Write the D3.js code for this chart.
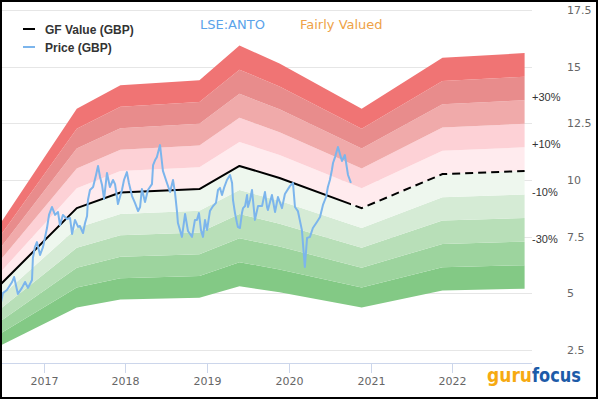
<!DOCTYPE html>
<html><head><meta charset="utf-8">
<script src="https://cdn.jsdelivr.net/npm/d3@7"></script>
<style>html,body{margin:0;padding:0;background:#fff}</style>
</head><body><svg id="c" width="600" height="420"></svg>
<script>
// ---------- data ----------
const priceDates = ["2016-06-20","2016-07-03","2016-07-21","2016-08-13","2016-08-22","2016-09-08","2016-09-26","2016-10-10","2016-10-23","2016-11-10","2016-11-14","2016-11-23","2016-12-02","2016-12-16","2016-12-29","2017-01-16","2017-01-25","2017-02-07","2017-02-21","2017-03-06","2017-03-15","2017-03-28","2017-04-15","2017-04-29","2017-05-08","2017-05-21","2017-06-04","2017-06-12","2017-06-26","2017-07-05","2017-07-14","2017-07-18","2017-07-27","2017-08-10","2017-08-23","2017-09-01","2017-09-10","2017-09-19","2017-09-28","2017-10-11","2017-10-24","2017-11-07","2017-11-16","2017-11-29","2017-12-08","2017-12-17","2017-12-26","2018-01-08","2018-01-17","2018-01-31","2018-02-13","2018-02-27","2018-03-08","2018-03-16","2018-03-30","2018-04-12","2018-04-30","2018-05-05","2018-05-14","2018-05-22","2018-06-05","2018-06-14","2018-06-18","2018-07-06","2018-07-20","2018-08-02","2018-08-11","2018-08-20","2018-08-24","2018-09-11","2018-09-25","2018-10-08","2018-10-26","2018-11-08","2018-11-17","2018-11-26","2018-12-05","2018-12-14","2018-12-23","2019-01-01","2019-01-14","2019-01-28","2019-02-10","2019-02-19","2019-02-28","2019-03-09","2019-03-18","2019-03-31","2019-04-14","2019-04-23","2019-04-27","2019-05-06","2019-05-15","2019-05-19","2019-05-28","2019-06-06","2019-06-11","2019-06-20","2019-06-29","2019-07-03","2019-07-12","2019-07-21","2019-08-03","2019-08-17","2019-09-04","2019-09-17","2019-09-26","2019-09-30","2019-10-18","2019-11-01","2019-11-14","2019-12-02","2019-12-15","2020-01-07","2020-01-20","2020-01-29","2020-02-11","2020-02-29","2020-03-13","2020-03-23","2020-04-05","2020-04-18","2020-05-06","2020-05-20","2020-06-02","2020-06-16","2020-06-24","2020-07-03","2020-07-12","2020-07-17","2020-07-26","2020-08-08","2020-08-26","2020-09-08","2020-09-22","2020-10-05"];
const priceValues = [4.40,5.01,5.15,5.50,5.72,4.97,5.24,5.50,5.24,5.59,6.56,7.04,7.26,6.69,7.04,7.88,8.46,8.81,8.46,8.59,8.01,8.46,8.28,8.32,7.62,8.24,7.93,7.97,7.66,8.10,8.41,9.12,9.56,9.69,10.22,10.62,10.13,9.78,9.16,10.31,9.69,10.00,9.82,8.94,9.25,9.56,10.00,10.35,9.87,9.29,8.99,8.63,8.81,9.60,9.03,9.56,9.82,10.66,10.88,11.01,11.54,10.75,10.40,9.87,9.47,10.00,9.43,8.59,8.10,7.49,8.50,7.75,7.49,8.24,8.24,8.54,7.79,7.49,8.24,7.79,8.63,8.85,8.99,9.56,9.65,9.34,9.65,10.00,10.22,9.87,9.12,8.54,8.10,7.93,7.88,8.54,8.76,8.85,9.34,8.81,9.12,9.56,8.24,8.85,8.85,9.47,8.81,8.68,9.34,8.59,9.25,8.76,9.38,9.74,9.87,8.81,8.63,7.79,6.16,7.44,7.49,7.88,8.15,8.37,8.90,9.25,9.69,10.00,10.44,10.75,11.01,11.46,10.84,11.10,10.22,9.87];

const gfDates = ["2016-06-20","2017-05-29","2017-12-10","2018-11-28","2019-05-26","2019-11-21","2020-11-22","2021-11-18","2022-11-20"];
const gfValues = [5.37,8.76,9.45,9.60,10.62,10.09,8.76,10.26,10.40];
const forecastStart = "2020-10-05";

const bandEdges = [-0.5,-0.4,-0.3,-0.2,-0.1,0,0.1,0.2,0.3,0.4,0.5];
const bandColors = ["#83c985","#9dd49e","#b8dfb8","#d5ebd5","#eef7ee","#ffebee","#fdd1d6","#f0aaaa","#e88c8c","#f07474"];
const bandLabels = ["+30%","+10%","-10%","-30%"];
const bandLabelFactors = [1.3,1.1,0.9,0.7];

const yTicks = [2.5,5,7.5,10,12.5,15,17.5];
const xTickLabels = ["2017","2018","2019","2020","2021","2022"];

const titleTicker = "LSE:ANTO";
const titleStatus = "Fairly Valued";
const legendNames = ["GF Value (GBP)","Price (GBP)"];

// ---------- chart ----------
const parse = d3.timeParse("%Y-%m-%d");
const svg = d3.select("#c");
const plotRight = 532, plotBottom = 363;

const x = d3.scaleTime().domain([parse("2016-06-20"), parse("2023-01-01")]).range([0, 534]);
const y = d3.scaleLinear().domain([2.5, 17.5]).range([350, 10]);

svg.append("rect").attr("width",600).attr("height",420).attr("fill","#fff");

// gridlines
svg.append("g").selectAll("line").data(yTicks).join("line")
  .attr("x1",0).attr("x2",plotRight)
  .attr("y1",d=>Math.round(y(d))+0.5).attr("y2",d=>Math.round(y(d))+0.5)
  .attr("stroke","#e6e6e6").attr("stroke-width",1);

// bands
const gf = gfDates.map((d,i)=>({date:parse(d), v:gfValues[i]}));
for (let i=0;i<bandColors.length;i++){
  const lo = bandEdges[i], hi = bandEdges[i+1];
  const area = d3.area().x(d=>x(d.date)).y0(d=>y(d.v*(1+lo))).y1(d=>y(d.v*(1+hi)));
  svg.append("path").datum(gf).attr("d",area).attr("fill",bandColors[i]);
}

// band labels
const lastGF = gf[gf.length-1];
svg.append("g").selectAll("text").data(bandLabels).join("text")
  .attr("x",plotRight).attr("y",(d,i)=>y(lastGF.v*bandLabelFactors[i])+1)
  .attr("font-family","Liberation Sans, Arial, sans-serif").attr("font-size",11)
  .attr("fill","#333").text(d=>d);

// right axis labels
svg.append("g").selectAll("text").data(yTicks).join("text")
  .attr("x",567).attr("y",d=>y(d)+4)
  .attr("font-family","DejaVu Sans, Verdana, sans-serif").attr("font-size",11)
  .attr("fill","#666").text(d=>d3.format("~g")(d));

// x axis
svg.append("line").attr("x1",0).attr("x2",plotRight).attr("y1",plotBottom+0.5).attr("y2",plotBottom+0.5)
  .attr("stroke","#ccd6eb").attr("stroke-width",1);
const xt = svg.append("g").selectAll("g").data(xTickLabels).join("g")
  .attr("transform",d=>`translate(${Math.round(x(parse(d+"-01-01")))+0.5},0)`);
xt.append("line").attr("y1",plotBottom).attr("y2",plotBottom+10).attr("stroke","#ccd6eb");
xt.append("text").attr("y",385).attr("text-anchor","middle")
  .attr("font-family","DejaVu Sans, Verdana, sans-serif").attr("font-size",11)
  .attr("fill","#666").text(d=>d);

// GF value line: solid until forecastStart, dashed after
const splitX = x(parse(forecastStart));
const defs = svg.append("defs");
defs.append("clipPath").attr("id","cpL").append("rect").attr("x",-5).attr("y",0).attr("width",splitX+5).attr("height",420);
defs.append("clipPath").attr("id","cpR").append("rect").attr("x",splitX).attr("y",0).attr("width",600).attr("height",420);
const gfLine = d3.line().x(d=>x(d.date)).y(d=>y(d.v));
svg.append("path").datum(gf).attr("d",gfLine).attr("clip-path","url(#cpL)")
  .attr("fill","none").attr("stroke","#000").attr("stroke-width",2).attr("stroke-linejoin","round");
svg.append("path").datum(gf).attr("d",gfLine).attr("clip-path","url(#cpR)")
  .attr("fill","none").attr("stroke","#000").attr("stroke-width",2).attr("stroke-dasharray","8,5");

// price line
const price = priceDates.map((d,i)=>({date:parse(d), v:priceValues[i]}));
svg.append("path").datum(price).attr("d",d3.line().x(d=>x(d.date)).y(d=>y(d.v)))
  .attr("fill","none").attr("stroke","#7cb5ec").attr("stroke-width",2).attr("stroke-linejoin","round");

// legend
const legColors = ["#000","#7cb5ec"];
const leg = svg.append("g").selectAll("g").data(legendNames).join("g")
  .attr("transform",(d,i)=>`translate(23,${29+i*18})`);
leg.append("line").attr("x1",0).attr("x2",12).attr("stroke",(d,i)=>legColors[i]).attr("stroke-width",2);
leg.append("text").attr("x",22).attr("y",4.5)
  .attr("font-family","Liberation Sans, Arial, sans-serif").attr("font-size",12).attr("font-weight","bold")
  .attr("fill","#333").text(d=>d);

// titles
svg.append("text").attr("x",200).attr("y",29).attr("font-family","DejaVu Sans, Verdana, sans-serif")
  .attr("font-size",13).attr("fill","#5ba3ea").text(titleTicker);
svg.append("text").attr("x",300).attr("y",29).attr("font-family","DejaVu Sans, Verdana, sans-serif")
  .attr("font-size",13).attr("fill","#eea247").text(titleStatus);

// logo
svg.append("text").attr("x",487).attr("y",382).attr("font-family","DejaVu Sans Condensed, DejaVu Sans, sans-serif")
  .attr("font-weight","bold").attr("font-size",19).attr("fill","#f6aa12")
  .attr("textLength",45).attr("lengthAdjust","spacingAndGlyphs").text("guru");
svg.append("text").attr("x",532).attr("y",382).attr("font-family","DejaVu Sans Condensed, DejaVu Sans, sans-serif")
  .attr("font-weight","bold").attr("font-size",19).attr("fill","#1d5ba8")
  .attr("textLength",49).attr("lengthAdjust","spacingAndGlyphs").text("focus");

// border
svg.append("rect").attr("x",1).attr("y",1).attr("width",596).attr("height",397)
  .attr("fill","none").attr("stroke","#000").attr("stroke-width",2);
</script></body></html>
